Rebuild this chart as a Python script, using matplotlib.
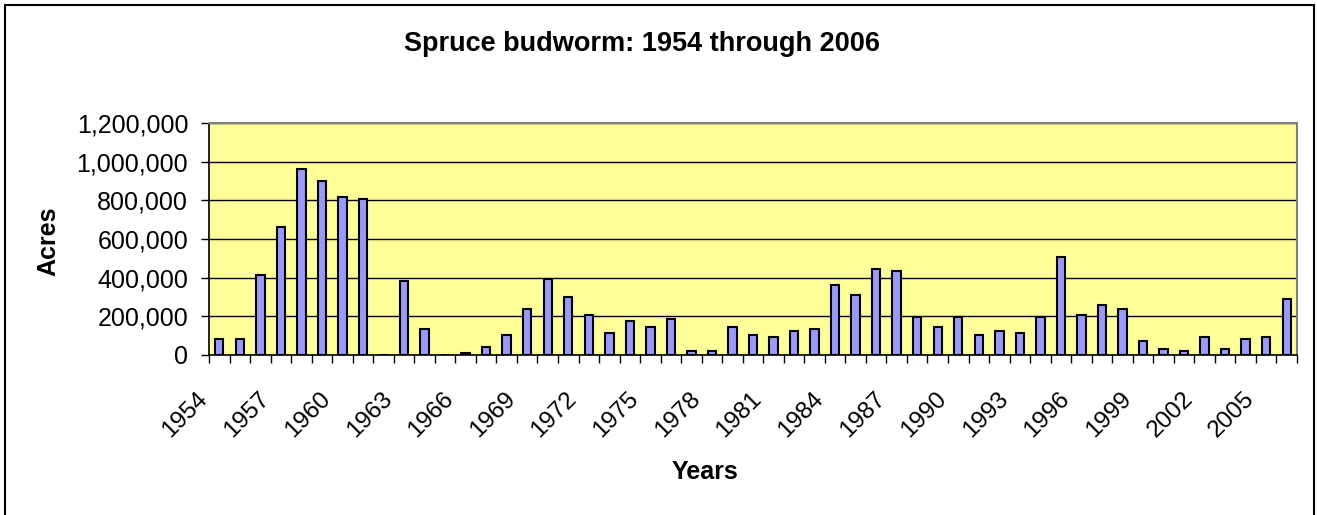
import matplotlib
matplotlib.use("Agg")
import matplotlib.pyplot as plt
from matplotlib.patches import Rectangle
from matplotlib.ticker import FuncFormatter, FixedLocator, NullFormatter
import numpy as np

years = list(range(1954, 2007))
acres = [83000, 83000, 414000, 663000, 963000, 901000, 818000, 808000, 0, 383000,
         135000, 0, 10000, 41000, 104000, 238000, 392000, 300000, 207000, 114000,
         176000, 145000, 186000, 21000, 21000, 145000, 104000, 93000, 124000, 135000,
         363000, 311000, 445000, 435000, 197000, 145000, 197000, 104000, 124000, 114000,
         197000, 508000, 207000, 259000, 238000, 73000, 31000, 21000, 93000, 31000,
         83000, 93000, 290000]
title = "Spruce budworm: 1954 through 2006"
xlabel = "Years"
ylabel = "Acres"
yticks = [0, 200000, 400000, 600000, 800000, 1000000, 1200000]

plt.rcParams['font.family'] = ['Liberation Sans', 'DejaVu Sans']

W, H = 1317, 515
fig = plt.figure(figsize=(W / 100, H / 100), dpi=100)
fig.patch.set_facecolor('white')

left, right, top, bottom = 209, 1297, 123, 355
ax = fig.add_axes([left / W, 1 - bottom / H, (right - left) / W, (bottom - top) / H])
ax.set_facecolor('#FFFF99')

x = np.arange(len(years))
ax.bar(x, acres, width=0.41, color='#9999FF', edgecolor='black', linewidth=1.5, zorder=3)

ax.set_xlim(-0.5, len(years) - 0.5)
ax.set_ylim(0, 1200000)
ax.set_yticks(yticks)
ax.yaxis.set_major_formatter(FuncFormatter(lambda v, p: f"{int(v):,}"))
ax.grid(axis='y', color='black', linewidth=1.0, zorder=1)
ax.set_axisbelow(True)

# x ticks at category boundaries, labels every 3 years
ax.xaxis.set_major_locator(FixedLocator(np.arange(-0.5, len(years), 1.0)))
ax.xaxis.set_major_formatter(NullFormatter())
ax.tick_params(axis='x', which='major', direction='out', length=6, width=1, color='black')
ax.tick_params(axis='y', direction='out', length=6, width=1, color='black', labelsize=18, pad=9)
for i in range(0, len(years), 3):
    ax.text(x[i] - 1.12, -0.142, str(years[i]), transform=ax.get_xaxis_transform(),
            rotation=45, ha='right', va='top', rotation_mode='anchor', fontsize=17.5)

for s in ['top', 'right']:
    ax.spines[s].set_color('#808080')
    ax.spines[s].set_linewidth(1.5)
for s in ['left', 'bottom']:
    ax.spines[s].set_color('black')
    ax.spines[s].set_linewidth(1.2)

fig.text(642 / W, 1 - 44 / H, title, ha='center', va='center', fontsize=19.5, fontweight='bold')
fig.text(705 / W, 1 - 472 / H, xlabel, ha='center', va='center', fontsize=18, fontweight='bold')
fig.text(48 / W, 1 - 241 / H, ylabel, ha='center', va='center', rotation=90, fontsize=18, fontweight='bold')

fig.add_artist(Rectangle((5 / W, -0.05), (1314 - 5) / W, 1.05 - 5 / H,
                         transform=fig.transFigure, fill=False, edgecolor='black', linewidth=1.5))

fig.savefig('out.png', dpi=100)
